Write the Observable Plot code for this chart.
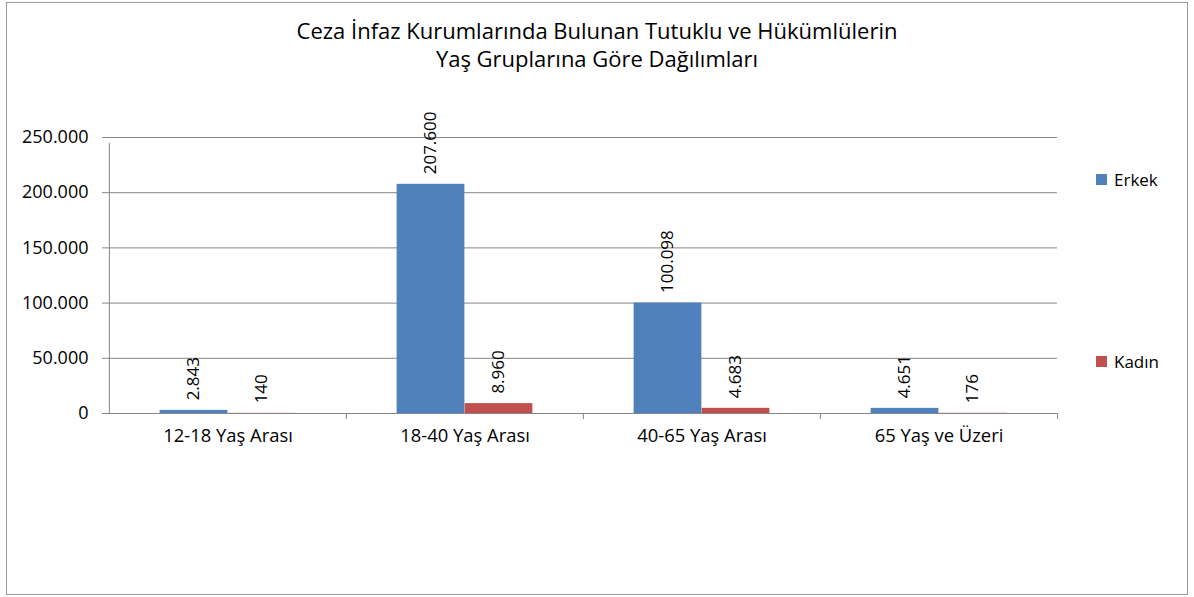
<!DOCTYPE html>
<html><head><meta charset="utf-8">
<script src="https://cdn.jsdelivr.net/npm/d3@7"></script>
<script src="https://cdn.jsdelivr.net/npm/@observablehq/plot@0.6"></script>
<style>
body{margin:0;background:#fff;font-family:"Open Sans",sans-serif;}
#wrap{position:relative;width:1194px;height:597px;overflow:hidden}
#border{position:absolute;left:6px;top:2px;width:1182px;height:593px;border:1.5px solid #9a9a9a;box-sizing:border-box}
#title{position:absolute;left:0;width:1194px;top:16px;text-align:center;font-size:22px;line-height:28px;color:#000}
.leg{position:absolute;left:1096px;font-size:17px;display:flex;align-items:center;height:22px;color:#000}
.sw{width:11px;height:11px;margin-right:7px}
#chart{position:absolute;left:0;top:0}
</style>
</head><body>
<div id="wrap">
<div id="chart"></div>
<div id="border"></div>
<div id="title">Ceza İnfaz Kurumlarında Bulunan Tutuklu ve Hükümlülerin<br>Yaş Gruplarına Göre Dağılımları</div>
<div id="legend"></div>
</div>
<script>
const categories = ["12-18 Yaş Arası", "18-40 Yaş Arası", "40-65 Yaş Arası", "65 Yaş ve Üzeri"];
const seriesNames = ["Erkek", "Kadın"];
const erkek = [2843, 207600, 100098, 4651];
const kadin = [140, 8960, 4683, 176];
const seriesColors = ["#4F81BD", "#C0504D"];
const yTicks = [0, 50000, 100000, 150000, 200000, 250000];

const fmt = d3.formatLocale({decimal: ",", thousands: ".", grouping: [3], currency: ["", ""]}).format(",");
const dataE = categories.map((c, i) => ({cat: c, series: seriesNames[0], value: erkek[i]}));
const dataK = categories.map((c, i) => ({cat: c, series: seriesNames[1], value: kadin[i]}));

const W = 1194, H = 597, mL = 108, mR = 137, mT = 137, mB = 184;
const band = (W - mL - mR) / categories.length;
const half = band / 2;
const barW = 68;
const gridColor = "#868686";

const chart = Plot.plot({
  width: W, height: H,
  marginLeft: mL, marginRight: mR, marginTop: mT, marginBottom: mB,
  style: {fontFamily: "Open Sans", fontSize: "17px", background: "transparent", color: "#000"},
  x: {domain: categories, padding: 0, axis: null, label: null},
  y: {domain: [0, 250000], axis: null, label: null},
  color: {domain: seriesNames, range: seriesColors},
  marks: [
    Plot.ruleY(yTicks, {stroke: gridColor, strokeOpacity: 1}),
    Plot.barY(dataE, {x: "cat", y: "value", fill: "series", insetLeft: half - barW, insetRight: half}),
    Plot.barY(dataK, {x: "cat", y: "value", fill: "series", insetLeft: half, insetRight: half - barW}),
    Plot.ruleX(categories, {x: d => d, dx: -half, y1: 0, y2: (d, i) => i === 0 ? 250000 : 0, insetBottom: -6, stroke: gridColor}),
    Plot.ruleX([categories[categories.length - 1]], {x: d => d, dx: half, y1: 0, y2: 0, insetBottom: -6, stroke: gridColor}),
    Plot.axisY(yTicks, {tickSize: 6, tickPadding: 14, tickFormat: fmt, fontSize: 18, stroke: gridColor, fill: "#000", label: null}),
    Plot.axisX({tickSize: 0, tickPadding: 15, fontSize: 18.4, fill: "#000", label: null}),
    Plot.text(dataE, {x: "cat", y: "value", text: d => fmt(d.value), rotate: -90, textAnchor: "start", dx: -barW / 2, dy: -10, fontSize: 17, fill: "#000"}),
    Plot.text(dataK, {x: "cat", y: "value", text: d => fmt(d.value), rotate: -90, textAnchor: "start", dx: barW / 2, dy: -10, fontSize: 17, fill: "#000"})
  ]
});
document.getElementById("chart").appendChild(chart);

const legendTops = [168, 350];
const legend = document.getElementById("legend");
seriesNames.forEach((s, i) => {
  const row = document.createElement("div");
  row.className = "leg";
  row.style.top = legendTops[i] + "px";
  row.innerHTML = `<span class="sw" style="background:${seriesColors[i]}"></span>${s}`;
  legend.appendChild(row);
});
</script>
</body></html>
